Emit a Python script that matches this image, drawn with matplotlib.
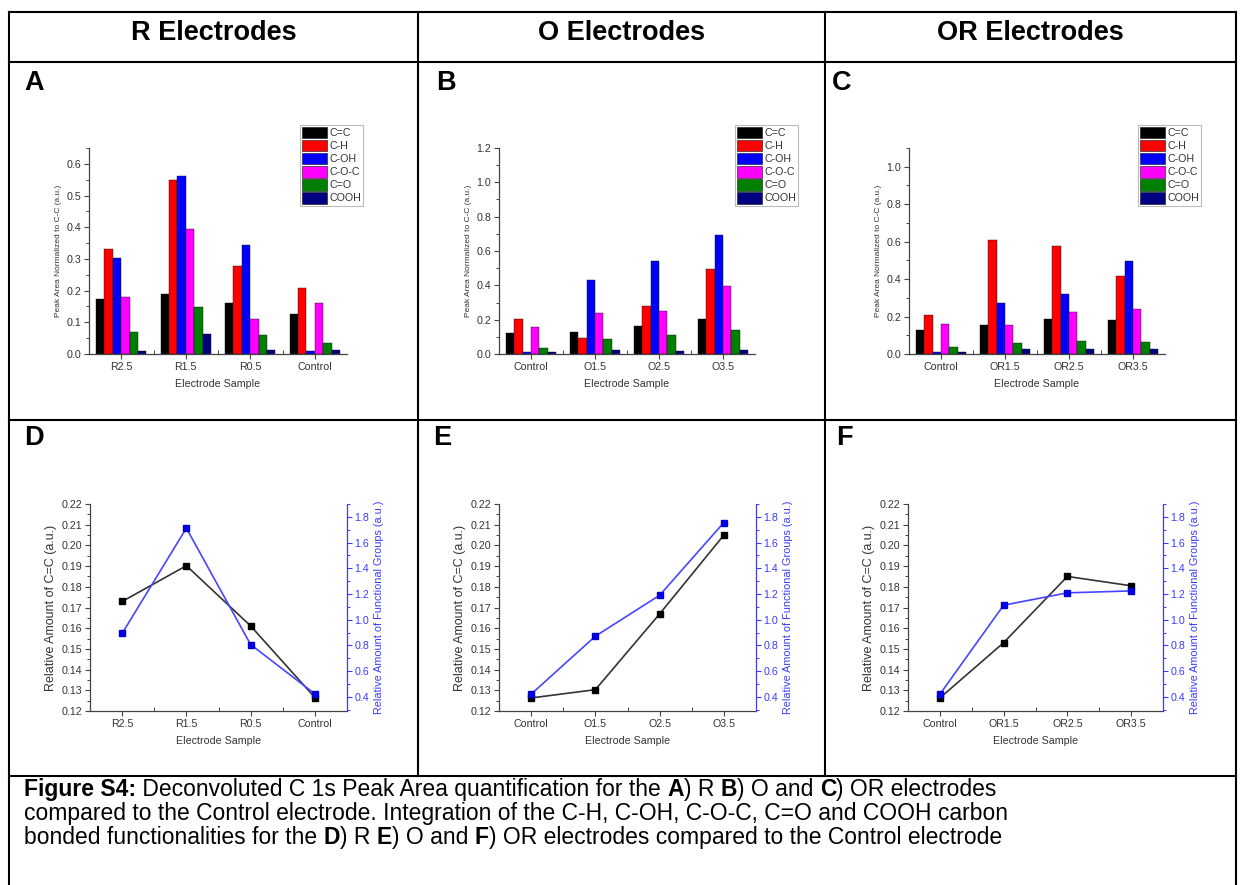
import matplotlib
matplotlib.use('Agg')
import matplotlib.pyplot as plt
from matplotlib.lines import Line2D
from matplotlib.patches import Patch
from matplotlib.ticker import MultipleLocator, FixedLocator
import numpy as np

plt.rcParams['font.family'] = ['Liberation Sans', 'DejaVu Sans']

# ---------------- data ----------------
groups = ['C=C', 'C-H', 'C-OH', 'C-O-C', 'C=O', 'COOH']
group_colors = ['#000000', '#ff0000', '#0000ff', '#ff00ff', '#008000', '#000080']

r_samples = ['R2.5', 'R1.5', 'R0.5', 'Control']
r_cc = [0.174, 0.190, 0.161, 0.126]
r_ch = [0.330, 0.548, 0.278, 0.207]
r_coh = [0.302, 0.562, 0.345, 0.010]
r_coc = [0.181, 0.395, 0.109, 0.160]
r_co = [0.068, 0.148, 0.061, 0.036]
r_cooh = [0.010, 0.064, 0.013, 0.013]

o_samples = ['Control', 'O1.5', 'O2.5', 'O3.5']
o_cc = [0.125, 0.129, 0.165, 0.204]
o_ch = [0.204, 0.092, 0.277, 0.496]
o_coh = [0.013, 0.429, 0.544, 0.696]
o_coc = [0.160, 0.238, 0.252, 0.398]
o_co = [0.037, 0.088, 0.108, 0.138]
o_cooh = [0.013, 0.023, 0.017, 0.021]

or_samples = ['Control', 'OR1.5', 'OR2.5', 'OR3.5']
or_cc = [0.126, 0.153, 0.186, 0.181]
or_ch = [0.206, 0.607, 0.579, 0.416]
or_coh = [0.012, 0.274, 0.321, 0.497]
or_coc = [0.162, 0.153, 0.222, 0.238]
or_co = [0.036, 0.060, 0.069, 0.062]
or_cooh = [0.012, 0.028, 0.028, 0.028]

r_rel_cc = [0.1729, 0.1902, 0.1611, 0.1265]
r_rel_fg = [0.893, 1.712, 0.807, 0.423]
o_rel_cc = [0.1263, 0.1303, 0.1669, 0.2050]
o_rel_fg = [0.421, 0.872, 1.190, 1.756]
or_rel_cc = [0.1263, 0.1530, 0.1850, 0.1805]
or_rel_fg = [0.420, 1.113, 1.209, 1.224]

headers = ['R Electrodes', 'O Electrodes', 'OR Electrodes']
panel_letters = ['A', 'B', 'C', 'D', 'E', 'F']

# ---------------- figure ----------------
W, H = 1244, 885
fig = plt.figure(figsize=(W / 100, H / 100), dpi=100)
fig.patch.set_facecolor('white')

TXT = '#333333'
BLUE_AX = '#3b3bff'


def fx(x):
    return x / W


def fy(y):
    return 1 - y / H


def add_axes_px(l, r, t, b):
    return fig.add_axes([fx(l), fy(b), (r - l) / W, (b - t) / H])


def hline(x0, x1, y):
    fig.add_artist(Line2D([fx(x0), fx(x1)], [fy(y), fy(y)], color='black', lw=1.5,
                          transform=fig.transFigure, solid_capstyle='projecting'))


def vline(x, y0, y1):
    fig.add_artist(Line2D([fx(x), fx(x)], [fy(y0), fy(y1)], color='black', lw=1.5,
                          transform=fig.transFigure, solid_capstyle='projecting'))


# table grid
XL, XR = 9, 1236
C1, C2 = 418, 825
hline(XL, XR, 12)
hline(XL, XR, 62)
hline(XL, XR, 420)
hline(XL, XR, 776)
vline(XL, 12, 885)
vline(XR, 12, 885)
vline(C1, 12, 776)
vline(C2, 12, 776)

# headers
hdr_x = [(XL + C1) / 2, (C1 + C2) / 2, (C2 + XR) / 2]
for hx, htxt in zip(hdr_x, headers):
    fig.text(fx(hx), fy(33), htxt, ha='center', va='center', fontsize=19.5,
             fontweight='bold', color='black')

# panel letters
letter_x = [[24, 436, 832], [24, 433, 836]]
for i, L in enumerate(panel_letters):
    row = i // 3
    lx = letter_x[row][i % 3]
    ly = 83 if row == 0 else 438
    fig.text(fx(lx), fy(ly), L, ha='left', va='center', fontsize=19.5,
             fontweight='bold', color='black')


def style_common(ax):
    for s in ['top', 'right']:
        ax.spines[s].set_visible(False)
    for s in ['left', 'bottom']:
        ax.spines[s].set_color('#444444')
        ax.spines[s].set_linewidth(0.9)
    ax.tick_params(axis='both', which='major', direction='out', length=3.5, width=0.8,
                   colors='#444444', labelsize=7.7, labelcolor=TXT, pad=2)
    ax.tick_params(axis='both', which='minor', direction='out', length=2, width=0.7,
                   colors='#444444')
    ax.xaxis.set_minor_locator(FixedLocator([0.5, 1.5, 2.5]))
    ax.tick_params(axis='x', which='minor', direction='in', length=3)


# ---------------- bar panels ----------------
bar_sets = [
    (r_samples, [r_cc, r_ch, r_coh, r_coc, r_co, r_cooh], (0, 0.65), 0.1, 0.05),
    (o_samples, [o_cc, o_ch, o_coh, o_coc, o_co, o_cooh], (0, 1.2), 0.2, 0.1),
    (or_samples, [or_cc, or_ch, or_coh, or_coc, or_co, or_cooh], (0, 1.1), 0.2, 0.1),
]
bar_pos = [(89, 347), (499, 755), (909, 1165)]
leg_pos = [(300, 125), (735, 125), (1138, 125)]

bw = 0.13
for k, (samples, series, ylim, maj, mnr) in enumerate(bar_sets):
    l, r = bar_pos[k]
    ax = add_axes_px(l, r, 148, 354)
    x = np.arange(len(samples))
    for i, (vals, col) in enumerate(zip(series, group_colors)):
        ax.bar(x + (i - 2.5) * bw, vals, width=bw, color=col, edgecolor='#111111',
               linewidth=0.3, label=groups[i])
    ax.set_xlim(-0.5, 3.5)
    ax.set_ylim(*ylim)
    ax.set_xticks(x)
    ax.set_xticklabels(samples)
    ax.yaxis.set_major_locator(MultipleLocator(maj))
    ax.yaxis.set_minor_locator(MultipleLocator(mnr))
    ax.yaxis.set_major_formatter(matplotlib.ticker.FormatStrFormatter('%.1f'))
    style_common(ax)
    ax.set_xlabel('Electrode Sample', fontsize=7.7, color=TXT, labelpad=5)
    ax.set_ylabel('Peak Area Normalized to C-C (a.u.)', fontsize=6, color=TXT, labelpad=3)
    handles = [Patch(facecolor=c, edgecolor='#111111', linewidth=0.4) for c in group_colors]
    lx, ly = leg_pos[k]
    leg = fig.legend(handles, groups, loc='upper left',
                     bbox_to_anchor=(fx(lx), fy(ly)), bbox_transform=fig.transFigure,
                     fontsize=7.7, frameon=True, fancybox=False, borderpad=0.2,
                     labelspacing=0.16, handlelength=2.3, handleheight=1.25,
                     handletextpad=0.25, borderaxespad=0)
    leg.get_frame().set_edgecolor('#aaaaaa')
    leg.get_frame().set_linewidth(0.8)
    for t in leg.get_texts():
        t.set_color(TXT)

# ---------------- line panels ----------------
line_sets = [
    (r_samples, r_rel_cc, r_rel_fg),
    (o_samples, o_rel_cc, o_rel_fg),
    (or_samples, or_rel_cc, or_rel_fg),
]
line_pos = [(90, 347), (499, 756), (908, 1163)]
for k, (samples, cc, fg) in enumerate(line_sets):
    l, r = line_pos[k]
    ax = add_axes_px(l, r, 504, 711)
    x = np.arange(len(samples))
    ax2 = ax.twinx()
    ax.plot(x, cc, color='#333333', lw=1.2, marker='s', markersize=4.5,
            markerfacecolor='black', markeredgecolor='black', zorder=3)
    ax2.plot(x, fg, color='#4646ff', lw=1.2, marker='s', markersize=4.5,
             markerfacecolor='#0000ee', markeredgecolor='#0000cc', zorder=3)
    ax.set_xlim(-0.5, 3.5)
    ax.set_ylim(0.12, 0.22)
    ax2.set_ylim(0.29, 1.90)
    ax.set_xticks(x)
    ax.set_xticklabels(samples)
    ax.yaxis.set_major_locator(MultipleLocator(0.01))
    ax.yaxis.set_minor_locator(MultipleLocator(0.005))
    ax.yaxis.set_major_formatter(matplotlib.ticker.FormatStrFormatter('%.2f'))
    style_common(ax)
    for s in ['top', 'left', 'bottom']:
        ax2.spines[s].set_visible(False)
    ax2.spines['right'].set_color(BLUE_AX)
    ax2.spines['right'].set_linewidth(0.9)
    ax2.yaxis.set_major_locator(MultipleLocator(0.2))
    ax2.yaxis.set_minor_locator(MultipleLocator(0.1))
    ax2.yaxis.set_major_formatter(matplotlib.ticker.FormatStrFormatter('%.1f'))
    ax2.tick_params(axis='y', which='major', direction='out', length=3.5, width=0.8,
                    colors=BLUE_AX, labelsize=7.7, labelcolor=BLUE_AX, pad=2)
    ax2.tick_params(axis='y', which='minor', direction='out', length=2, width=0.7,
                    colors=BLUE_AX)
    ax.set_xlabel('Electrode Sample', fontsize=7.7, color=TXT, labelpad=5)
    ax.set_ylabel('Relative Amount of C=C (a.u.)', fontsize=9, color=TXT, labelpad=3)
    ax2.set_ylabel('Relative Amount of Functional Groups (a.u.)', fontsize=7.8,
                   color=BLUE_AX, labelpad=3)

# ---------------- caption ----------------
caption_lines = [
    [('Figure S4:', 'bold'), (' Deconvoluted C 1s Peak Area quantification for the ', 'normal'),
     ('A', 'bold'), (') R ', 'normal'), ('B', 'bold'), (') O and ', 'normal'), ('C', 'bold'),
     (') OR electrodes', 'normal')],
    [('compared to the Control electrode. Integration of the C-H, C-OH, C-O-C, C=O and COOH carbon',
      'normal')],
    [('bonded functionalities for the ', 'normal'), ('D', 'bold'), (') R ', 'normal'),
     ('E', 'bold'), (') O and ', 'normal'), ('F', 'bold'),
     (') OR electrodes compared to the Control electrode', 'normal')],
]
cap_baselines = [796, 820, 844]
renderer = fig.canvas.get_renderer()
for runs, yb in zip(caption_lines, cap_baselines):
    xpos = 24.0
    for txt, wt in runs:
        t = fig.text(fx(xpos), fy(yb), txt, fontsize=16.5, fontweight=wt, color='black',
                     ha='left', va='baseline')
        bb = t.get_window_extent(renderer=renderer)
        xpos += bb.width

fig.savefig('out.png', dpi=100, facecolor='white')
